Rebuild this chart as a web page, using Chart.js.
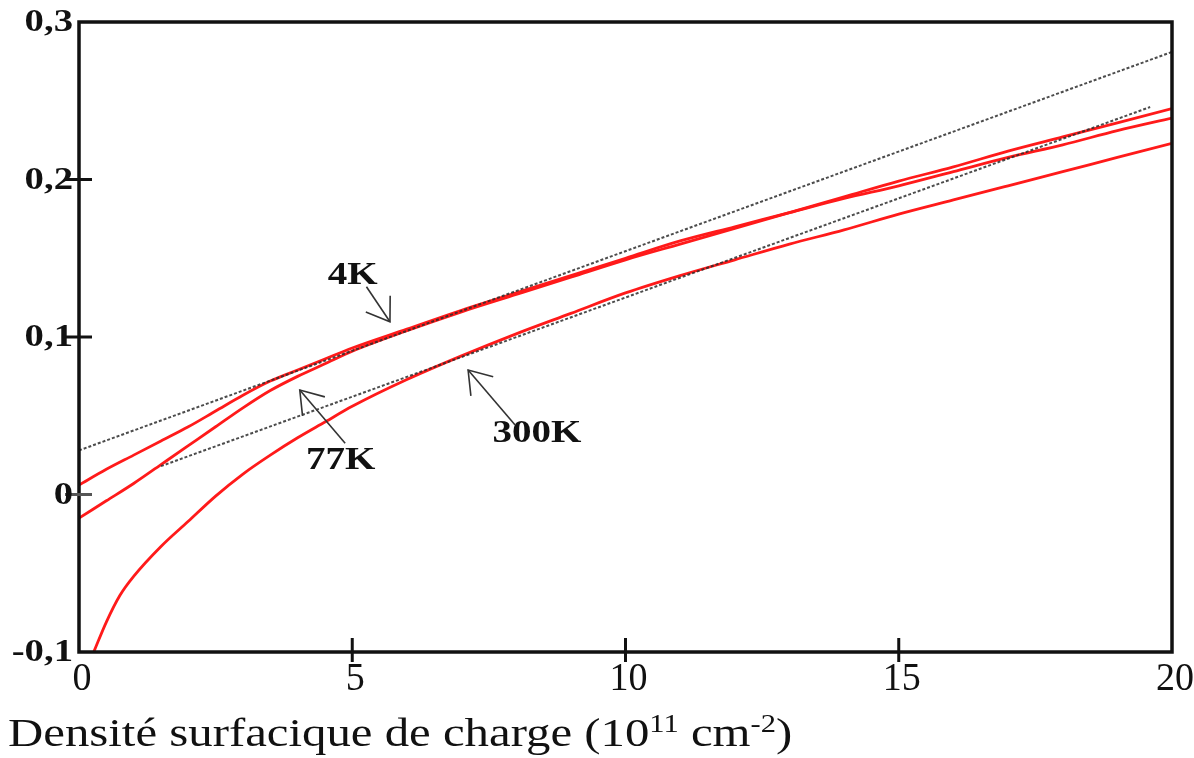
<!DOCTYPE html>
<html>
<head>
<meta charset="utf-8">
<script src="https://cdn.jsdelivr.net/npm/chart.js@4.4.0/dist/chart.umd.min.js"></script>
<style>
  html, body { margin: 0; padding: 0; background: #ffffff; }
  #wrap { width: 1194px; height: 758px; }
</style>
</head>
<body>
<div id="wrap"><canvas id="c" width="1194" height="758"></canvas></div>
<script>
// Densité surfacique de charge (1e11 cm^-2) sampled for the 4K and 77K curves
const densiteBasseT = [0, 0.5, 1, 1.5, 2, 2.5, 3, 3.5, 4, 4.5, 5, 6, 7, 8, 9, 10, 11, 12, 13, 14, 15, 16, 17, 18, 19, 20];
const valeurs4K  = [0.006, 0.016, 0.025, 0.034, 0.043, 0.053, 0.063, 0.072, 0.079, 0.086, 0.093, 0.105, 0.117, 0.128, 0.139, 0.150, 0.161, 0.170, 0.179, 0.188, 0.196, 0.205, 0.214, 0.222, 0.231, 0.239];
const valeurs77K = [-0.015, -0.004, 0.007, 0.019, 0.031, 0.043, 0.055, 0.066, 0.075, 0.083, 0.091, 0.104, 0.116, 0.127, 0.138, 0.149, 0.159, 0.169, 0.179, 0.189, 0.199, 0.208, 0.218, 0.227, 0.236, 0.245];

// 300K curve
const densite300K = [0.27, 0.5, 0.75, 1, 1.5, 2, 2.5, 3, 3.5, 4, 4.5, 5, 6, 7, 8, 9, 10, 11, 12, 13, 14, 15, 16, 17, 18, 19, 20];
const valeurs300K = [-0.100, -0.081, -0.064, -0.052, -0.033, -0.017, -0.001, 0.013, 0.025, 0.036, 0.046, 0.056, 0.073, 0.088, 0.102, 0.115, 0.128, 0.139, 0.149, 0.159, 0.168, 0.178, 0.187, 0.196, 0.205, 0.214, 0.223];

// Linear fits (dotted)
const densiteFitHaut = [0, 20];
const valeursFitHaut = [0.028, 0.281];
const densiteFitBas = [1.5, 19.6];
const valeursFitBas = [0.018, 0.246];

// Axis ticks
const ticksX = [0, 5, 10, 15, 20];
const ticksY = [-0.1, 0, 0.1, 0.2, 0.3];
const ticksYLabels = ['-0,1', '0', '0,1', '0,2', '0,3'];

// Curve labels with their arrows, in data units
const etiquettes = [
  { texte: '4K',   pos: [5.01, 0.1387], de: [5.26, 0.1319], vers: [5.69, 0.1097] },
  { texte: '77K',  pos: [4.79, 0.0213], de: [4.87, 0.0325], vers: [4.04, 0.0663] },
  { texte: '300K', pos: [8.38, 0.0384], de: [7.98, 0.0441], vers: [7.12, 0.0790] }
];

const SERIF = '"Liberation Serif", "Times New Roman", Times, serif';

function pts(xs, ys) { return xs.map((x, i) => ({ x: x, y: ys[i] })); }

const ROUGE = '#ff1a1a';
const POINTILLE = 'rgba(45,45,45,0.85)';

function stretchText(ctx, text, x, y, sx, align) {
  ctx.save();
  ctx.translate(x, y);
  ctx.scale(sx, 1);
  ctx.textAlign = align;
  ctx.fillText(text, 0, 0);
  ctx.restore();
}

const cadre = {
  id: 'cadre',
  afterDraw(chart) {
    const ctx = chart.ctx;
    const a = chart.chartArea;
    const sx = chart.scales.x, sy = chart.scales.y;
    ctx.save();

    // frame
    ctx.strokeStyle = '#111';
    ctx.lineWidth = 3.5;
    ctx.strokeRect(a.left, a.top, a.right - a.left, a.bottom - a.top);

    // y tick marks crossing the axis
    ctx.lineWidth = 3;
    ticksY.forEach(v => {
      if (v === ticksY[0] || v === ticksY[ticksY.length - 1]) return;
      const py = sy.getPixelForValue(v);
      ctx.strokeStyle = v === 0 ? '#555' : '#111';
      ctx.beginPath();
      ctx.moveTo(a.left - 14, py);
      ctx.lineTo(a.left + 13, py);
      ctx.stroke();
    });
    ctx.strokeStyle = '#111';
    // x tick marks crossing the axis
    ticksX.forEach(v => {
      if (v === ticksX[0] || v === ticksX[ticksX.length - 1]) return;
      const px = sx.getPixelForValue(v);
      ctx.beginPath();
      ctx.moveTo(px, a.bottom - 14);
      ctx.lineTo(px, a.bottom + 10);
      ctx.stroke();
    });

    // y tick labels
    ctx.fillStyle = '#111';
    ctx.font = 'bold 31px ' + SERIF;
    ctx.textBaseline = 'middle';
    ticksY.forEach((v, i) => {
      const py = sy.getPixelForValue(v);
      stretchText(ctx, ticksYLabels[i], a.left - 6, py + 1, 1.25, 'right');
    });

    // x tick labels
    ctx.font = '40px ' + SERIF;
    ctx.textBaseline = 'alphabetic';
    ticksX.forEach(v => {
      const px = sx.getPixelForValue(v);
      stretchText(ctx, String(v), px + 3, a.bottom + 38, 0.95, 'center');
    });

    // x axis title with superscripts
    const sxT = 1.22;
    let cx = 8;
    const base = 746;
    const parts = [
      ['Densité surfacique de charge (10', 0],
      ['11', 1],
      [' cm', 0],
      ['-2', 1],
      [')', 0]
    ];
    parts.forEach(([t, sup]) => {
      ctx.font = (sup ? '25px ' : '40px ') + SERIF;
      const w = ctx.measureText(t).width * sxT;
      stretchText(ctx, t, cx, sup ? base - 14 : base, sxT, 'left');
      cx += w;
    });

    // curve labels and arrows
    ctx.font = 'bold 32px ' + SERIF;
    ctx.textBaseline = 'middle';
    ctx.fillStyle = '#111';
    ctx.strokeStyle = '#333';
    ctx.lineWidth = 1.6;
    etiquettes.forEach(e => {
      stretchText(ctx, e.texte, sx.getPixelForValue(e.pos[0]), sy.getPixelForValue(e.pos[1]), 1.22, 'center');
      const x1 = sx.getPixelForValue(e.de[0]), y1 = sy.getPixelForValue(e.de[1]);
      const x2 = sx.getPixelForValue(e.vers[0]), y2 = sy.getPixelForValue(e.vers[1]);
      ctx.beginPath();
      ctx.moveTo(x1, y1);
      ctx.lineTo(x2, y2);
      ctx.stroke();
      const ang = Math.atan2(y1 - y2, x1 - x2);
      const L = 26, da = 0.6;
      ctx.beginPath();
      ctx.moveTo(x2 + L * Math.cos(ang - da), y2 + L * Math.sin(ang - da));
      ctx.lineTo(x2, y2);
      ctx.lineTo(x2 + L * Math.cos(ang + da), y2 + L * Math.sin(ang + da));
      ctx.stroke();
    });

    ctx.restore();
  }
};

new Chart(document.getElementById('c'), {
  type: 'scatter',
  data: {
    datasets: [
      { label: 'fit 4K/77K', data: pts(densiteFitHaut, valeursFitHaut), showLine: true,
        borderColor: POINTILLE, borderWidth: 2, borderDash: [3, 2], pointRadius: 0, order: 0 },
      { label: 'fit 300K', data: pts(densiteFitBas, valeursFitBas), showLine: true,
        borderColor: POINTILLE, borderWidth: 2, borderDash: [3, 2], pointRadius: 0, order: 0 },
      { label: '4K', data: pts(densiteBasseT, valeurs4K), showLine: true,
        borderColor: ROUGE, borderWidth: 2.8, pointRadius: 0, cubicInterpolationMode: 'monotone', order: 1 },
      { label: '77K', data: pts(densiteBasseT, valeurs77K), showLine: true,
        borderColor: ROUGE, borderWidth: 2.8, pointRadius: 0, cubicInterpolationMode: 'monotone', order: 1 },
      { label: '300K', data: pts(densite300K, valeurs300K), showLine: true,
        borderColor: ROUGE, borderWidth: 2.8, pointRadius: 0, cubicInterpolationMode: 'monotone', order: 1 }
    ]
  },
  options: {
    responsive: false,
    animation: false,
    devicePixelRatio: 1,
    layout: { padding: { left: 0, right: 22, top: 22, bottom: 0 } },
    plugins: { legend: { display: false }, tooltip: { enabled: false } },
    scales: {
      x: {
        type: 'linear', min: 0, max: 20,
        ticks: { display: false, stepSize: 5 },
        grid: { display: false }, border: { display: false },
        afterFit(s) { s.height = 106; }
      },
      y: {
        type: 'linear', min: -0.1, max: 0.3,
        ticks: { display: false, stepSize: 0.1 },
        grid: { display: false }, border: { display: false },
        afterFit(s) { s.width = 79; }
      }
    }
  },
  plugins: [cadre]
});
</script>
</body>
</html>
